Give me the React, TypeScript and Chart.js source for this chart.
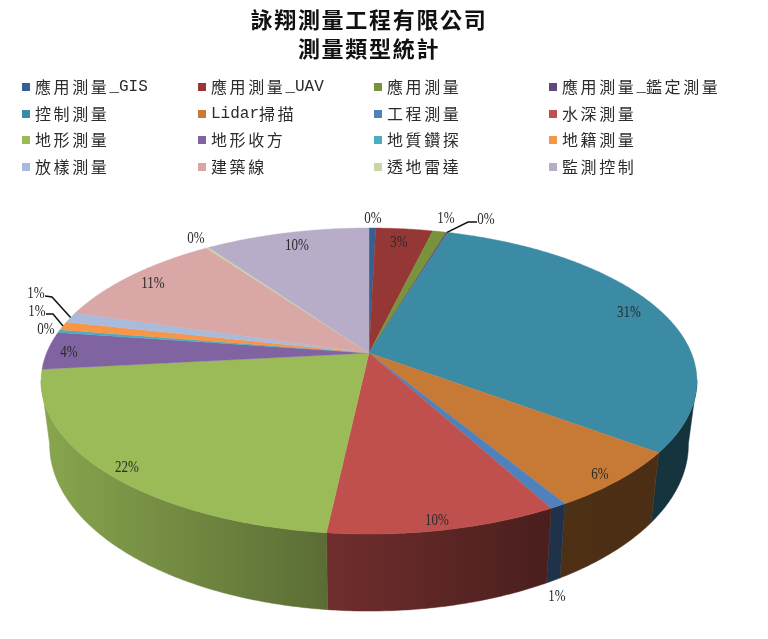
import React, { useEffect, useRef } from 'react';
import { Chart, registerables } from 'chart.js';

Chart.register(...registerables);

const titleLines = ['詠翔測量工程有限公司', '測量類型統計'];

const categories = [
    '應用測量_GIS', '應用測量_UAV', '應用測量', '應用測量_鑑定測量',
    '控制測量', 'Lidar掃描', '工程測量', '水深測量',
    '地形測量', '地形收方', '地質鑽探', '地籍測量',
    '放樣測量', '建築線', '透地雷達', '監測控制',
];

const shares = [0.39, 3.36, 0.8, 0.1, 30.65, 6.2, 0.7, 9.6, 21.6, 4, 0.3, 0.9, 1.1, 10.6, 0.15, 9.7];

const sliceColors = [
    '#376092', '#953735', '#77933C', '#604A7B',
    '#3A8BA3', '#C77A36', '#4F81BD', '#C0504D',
    '#9BBB59', '#8064A2', '#4BACC6', '#F79646',
    '#A7BBDC', '#D9A7A6', '#C7D6A6', '#B7ADC9',
];

// where each percent label sits, and the bent leader lines for the crowded ones
const labelAnchors = [
    [373, 219], [399, 243], [446, 219], [486, 220],
    [629, 313], [600, 475], [557, 597], [437, 521],
    [127, 468], [69, 353], [46, 330], [37, 312],
    [36, 294], [153, 284], [196, 239], [297, 246],
];
const leaders: Record<number, number[]> = {
    3: [477, 222, 468, 222],
    11: [46, 314, 53, 314],
    12: [45, 296, 52, 297],
};

// perspective of the pie, fitted on the reference
const CX = 369;
const K = -0.183;
const topFace = { y: 353, a: 147.9, b: 322.4 };
const bottomFace = { y: 414, a: 161, b: 314 };
const WALL_FROM = 0.18;
const wallShade = [[45, 0.88], [330, 0.58], [540, 0.39], [700, 0.37]];

const project = (angle: number, face: { y: number; a: number; b: number }) => {
    const u = Math.cos(angle);
    const v = Math.sin(angle);
    const w = 1 + K * v;
    return [CX + (face.b * u) / w, face.y + (face.a * v) / w];
};

const rimPoints = (from: number, to: number, face: { y: number; a: number; b: number }) => {
    const steps = Math.max(2, Math.ceil(Math.abs(to - from) / 0.01));
    const pts: number[][] = [];
    for (let i = 0; i <= steps; i++) pts.push(project(from + ((to - from) * i) / steps, face));
    return pts;
};

const shade = (hex: string, f: number) => {
    const n = parseInt(hex.slice(1), 16);
    return `rgb(${Math.round((n >> 16) * f)},${Math.round(((n >> 8) & 255) * f)},${Math.round((n & 255) * f)})`;
};

// text in the reference is taller than it is wide
const stretchedText = (ctx: CanvasRenderingContext2D, text: string, x: number, y: number, font: string, sx: number, sy: number) => {
    ctx.save();
    ctx.translate(x, y);
    ctx.scale(sx, sy);
    ctx.font = font;
    ctx.fillStyle = '#2b2b2b';
    ctx.textAlign = 'center';
    ctx.textBaseline = 'middle';
    ctx.fillText(text, 0, 0);
    ctx.restore();
};

// latin runs are half width, CJK runs get some tracking
const legendText = (ctx: CanvasRenderingContext2D, text: string, x: number, y: number) => {
    ctx.save();
    ctx.fillStyle = '#2b2b2b';
    ctx.textBaseline = 'middle';
    ctx.textAlign = 'left';
    let pos = x;
    for (const run of text.match(/[\x00-\x7f]+|[^\x00-\x7f]+/g) || []) {
        const latin = run.charCodeAt(0) < 128;
        ctx.font = latin ? '16px "Liberation Mono"' : '16px "Noto Sans CJK TC"';
        (ctx as any).letterSpacing = latin ? '0px' : '2.6px';
        ctx.fillText(run, pos, y);
        pos += ctx.measureText(run).width;
    }
    ctx.restore();
};

const legendCols = [22, 198, 374, 549];
const legendRows = [87, 114, 140, 167];

const piePlugin = {
    id: 'perspectivePie',
    beforeDraw(chart: any) {
        // tracking for the title, which the library draws next
        chart.ctx.letterSpacing = '1.7px';
    },
    beforeDatasetsDraw(chart: any) {
        const { ctx } = chart;
        ctx.letterSpacing = '0px';
        const arcs = chart.getDatasetMeta(0).data;
        const total = shares.reduce((s, v) => s + v, 0);

        // outer wall first
        arcs.forEach((arc: any, i: number) => {
            const from = Math.max(arc.startAngle, WALL_FROM);
            const to = Math.min(arc.endAngle, Math.PI - WALL_FROM);
            if (to <= from) return;
            const grad = ctx.createLinearGradient(45, 0, 700, 0);
            wallShade.forEach(([x, f]) => grad.addColorStop((x - 45) / 655, shade(sliceColors[i], f)));
            const outline = [...rimPoints(from, to, topFace), ...rimPoints(to, from, bottomFace)];
            ctx.beginPath();
            outline.forEach(([x, y], n) => (n ? ctx.lineTo(x, y) : ctx.moveTo(x, y)));
            ctx.closePath();
            ctx.fillStyle = grad;
            ctx.strokeStyle = grad;
            ctx.lineWidth = 0.5;
            ctx.fill();
            ctx.stroke();
        });

        // top face
        arcs.forEach((arc: any, i: number) => {
            ctx.beginPath();
            ctx.moveTo(CX, topFace.y);
            rimPoints(arc.startAngle, arc.endAngle, topFace).forEach(([x, y]) => ctx.lineTo(x, y));
            ctx.closePath();
            ctx.fillStyle = sliceColors[i];
            ctx.strokeStyle = sliceColors[i];
            ctx.lineWidth = 0.4;
            ctx.fill();
            ctx.stroke();
        });

        // leaders
        Object.keys(leaders).forEach((key) => {
            const i = Number(key);
            const arc = arcs[i];
            const [x1, y1, x2, y2] = leaders[i];
            const [x3, y3] = project((arc.startAngle + arc.endAngle) / 2, topFace);
            ctx.beginPath();
            ctx.moveTo(x1, y1);
            ctx.lineTo(x2, y2);
            ctx.lineTo(x3, y3);
            ctx.strokeStyle = '#111';
            ctx.lineWidth = 1.5;
            ctx.stroke();
        });

        // percent labels
        shares.forEach((v, i) => {
            const [x, y] = labelAnchors[i];
            stretchedText(ctx, `${Math.round((v / total) * 100)}%`, x, y, '13px "Liberation Serif"', 1, 1.25);
        });

        // legend
        categories.forEach((name, i) => {
            const x = legendCols[i % 4];
            const y = legendRows[Math.floor(i / 4)];
            ctx.fillStyle = sliceColors[i];
            ctx.fillRect(x, y - 4, 8, 8);
            legendText(ctx, name, x + 13, y);
        });

        return false;
    },
};

export default function App() {
    const chartRef = useRef<HTMLCanvasElement>(null);

    useEffect(() => {
        document.body.style.margin = '0';
        if (!chartRef.current) return;
        const chart = new Chart(chartRef.current, {
            type: 'pie',
            data: {
                labels: categories,
                datasets: [{ data: shares, backgroundColor: sliceColors, borderWidth: 0 }],
            },
            options: {
                responsive: false,
                animation: false,
                layout: { padding: { right: 30 } },
                plugins: {
                    legend: { display: false },
                    tooltip: { enabled: false },
                    title: {
                        display: true,
                        text: titleLines,
                        color: '#111',
                        font: { family: '"Noto Sans CJK TC"', size: 22, weight: 'bold', lineHeight: 1.32 },
                        padding: { top: 5, bottom: 0 },
                    },
                },
            },
            plugins: [piePlugin],
        } as any);
        return () => chart.destroy();
    }, []);

    return <canvas ref={chartRef} width={768} height={639} style={{ display: 'block', background: '#fff' }} />;
}
